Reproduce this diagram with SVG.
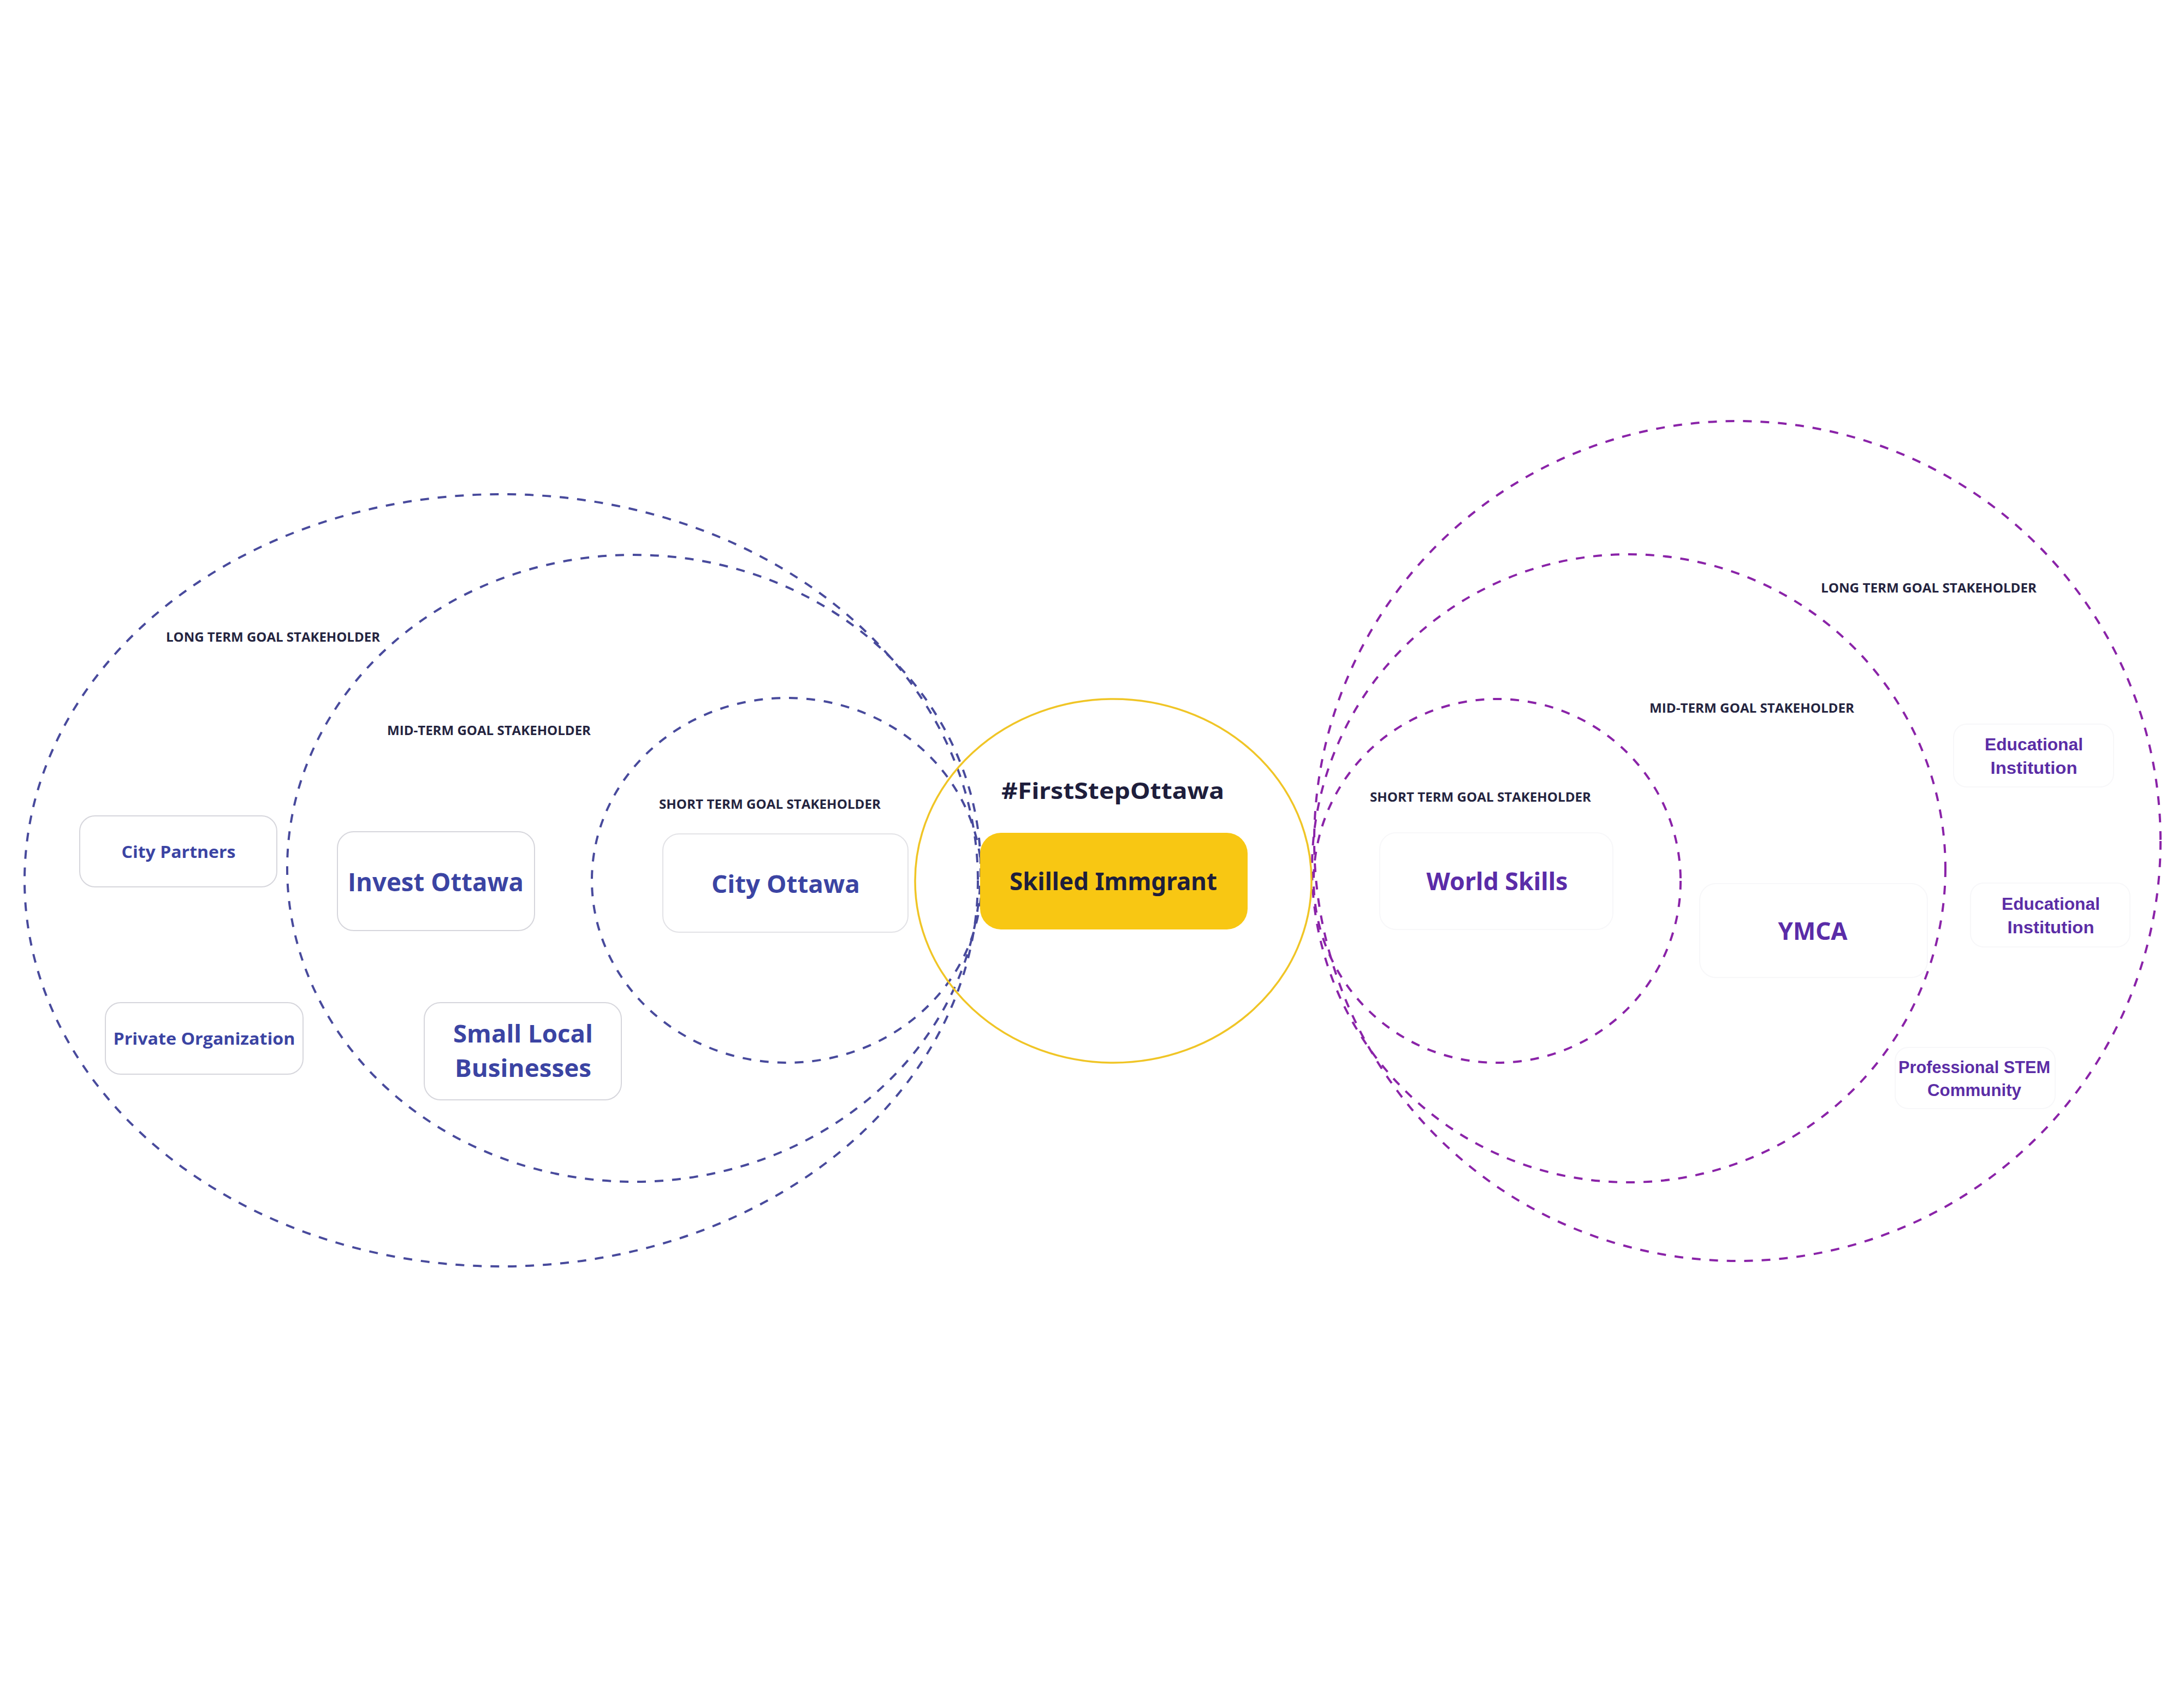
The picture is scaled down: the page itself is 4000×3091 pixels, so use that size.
<svg xmlns="http://www.w3.org/2000/svg" width="4000" height="3091" viewBox="0 0 4000 3091">
<style>
.ringL{fill:none;stroke:#484A9C;stroke-width:4;stroke-dasharray:16 16}
.ringR{fill:none;stroke:#8A23A8;stroke-width:4;stroke-dasharray:16 16}
.core{fill:none;stroke:#F0C526;stroke-width:3.5}
.box{fill:#ffffff;stroke:#d6d6dc;stroke-width:2}
.faint{fill:#ffffff;stroke:#f7f7f9;stroke-width:2}
.lbl{font-family:"Open Sans","Noto Sans",sans-serif;font-weight:700;font-size:24px;fill:#24243F}
.tL{font-family:"Open Sans","Noto Sans",sans-serif;font-weight:700;fill:#3B44A3;text-anchor:middle}
.tR{font-family:"Noto Sans","Open Sans",sans-serif;font-weight:700;fill:#5A2CA8;text-anchor:middle}
.tE{font-family:"Liberation Sans",Arial,sans-serif;font-weight:700;fill:#5B2DA6;text-anchor:middle;font-size:31px}
.tC{font-family:"Noto Sans","Open Sans",sans-serif;font-weight:700;fill:#1E1E3C;text-anchor:middle}
</style>
<rect x="0" y="0" width="4000" height="3091" fill="#ffffff"/>

<g id="ring-left-long"><ellipse class="ringL" cx="918" cy="1612" rx="873" ry="707"/></g>
<g id="ring-left-mid"><ellipse class="ringL" cx="1161" cy="1590" rx="635" ry="574"/></g>
<g id="ring-left-short"><ellipse class="ringL" cx="1441" cy="1612" rx="357" ry="334"/></g>
<g id="ring-right-long"><ellipse class="ringR" cx="3182" cy="1540" rx="775" ry="769"/></g>
<g id="ring-right-mid"><ellipse class="ringR" cx="2983" cy="1590" rx="580" ry="575"/></g>
<g id="ring-right-short"><ellipse class="ringR" cx="2742" cy="1613" rx="336" ry="333"/></g>
<g id="ring-core"><ellipse class="core" cx="2039" cy="1613" rx="363" ry="333"/></g>

<g id="connectors"></g>

<g id="label-left-long"><text class="lbl" x="304" y="1175" textLength="392" lengthAdjust="spacingAndGlyphs">LONG TERM GOAL STAKEHOLDER</text></g>
<g id="label-left-mid"><text class="lbl" x="709" y="1346" textLength="373" lengthAdjust="spacingAndGlyphs">MID-TERM GOAL STAKEHOLDER</text></g>
<g id="label-left-short"><text class="lbl" x="1207" y="1481" textLength="406" lengthAdjust="spacingAndGlyphs">SHORT TERM GOAL STAKEHOLDER</text></g>
<g id="label-right-long"><text class="lbl" x="3335" y="1085" textLength="395" lengthAdjust="spacingAndGlyphs">LONG TERM GOAL STAKEHOLDER</text></g>
<g id="label-right-mid"><text class="lbl" x="3021" y="1305" textLength="375" lengthAdjust="spacingAndGlyphs">MID-TERM GOAL STAKEHOLDER</text></g>
<g id="label-right-short"><text class="lbl" x="2509" y="1468" textLength="405" lengthAdjust="spacingAndGlyphs">SHORT TERM GOAL STAKEHOLDER</text></g>

<g id="node-city-partners">
<rect class="box" x="146" y="1494" width="361" height="130" rx="28"/>
<text class="tL" x="327" y="1571" font-size="31" textLength="209" lengthAdjust="spacingAndGlyphs">City Partners</text>
</g>
<g id="node-invest-ottawa">
<rect class="box" x="618" y="1523" width="361" height="181" rx="30"/>
<text class="tL" x="798" y="1632" font-size="46" textLength="322" lengthAdjust="spacingAndGlyphs">Invest Ottawa</text>
</g>
<g id="node-private-organization">
<rect class="box" x="193" y="1836" width="362" height="131" rx="28"/>
<text class="tL" x="374" y="1913" font-size="30" textLength="333" lengthAdjust="spacingAndGlyphs">Private Organization</text>
</g>
<g id="node-small-local-businesses">
<rect class="box" x="777" y="1836" width="361" height="178" rx="30"/>
<text class="tL" x="958" y="1909" font-size="44" textLength="256" lengthAdjust="spacingAndGlyphs">Small Local</text>
<text class="tL" x="958" y="1972" font-size="44" textLength="250" lengthAdjust="spacingAndGlyphs">Businesses</text>
</g>
<g id="node-city-ottawa">
<rect class="box" x="1214" y="1527" width="449" height="180" rx="30" style="stroke:#e2e2e6"/>
<text class="tL" x="1439" y="1635" font-size="44" textLength="272" lengthAdjust="spacingAndGlyphs">City Ottawa</text>
</g>

<g id="node-first-step-ottawa">
<text class="tC" x="2038" y="1463" font-size="42" textLength="408" lengthAdjust="spacingAndGlyphs">#FirstStepOttawa</text>
</g>
<g id="node-skilled-immigrant">
<rect x="1795" y="1525" width="490" height="177" rx="38" fill="#F8C713"/>
<text class="tC" x="2039" y="1630" font-size="44" textLength="380" lengthAdjust="spacingAndGlyphs">Skilled Immgrant</text>
</g>

<g id="node-world-skills">
<rect class="faint" x="2527" y="1525" width="427" height="177" rx="30"/>
<text class="tR" x="2742" y="1630" font-size="44" textLength="259" lengthAdjust="spacingAndGlyphs">World Skills</text>
</g>
<g id="node-ymca">
<rect class="faint" x="3113" y="1618" width="417" height="172" rx="30"/>
<text class="tR" x="3320" y="1721" font-size="44" textLength="127" lengthAdjust="spacingAndGlyphs">YMCA</text>
</g>
<g id="node-educational-1">
<rect class="faint" x="3578" y="1326" width="293" height="115" rx="24"/>
<text class="tE" x="3725" y="1374" textLength="180" lengthAdjust="spacingAndGlyphs">Educational</text>
<text class="tE" x="3725" y="1417" textLength="159" lengthAdjust="spacingAndGlyphs">Institution</text>
</g>
<g id="node-educational-2">
<rect class="faint" x="3609" y="1617" width="292" height="117" rx="24"/>
<text class="tE" x="3756" y="1666" textLength="180" lengthAdjust="spacingAndGlyphs">Educational</text>
<text class="tE" x="3756" y="1709" textLength="159" lengthAdjust="spacingAndGlyphs">Institution</text>
</g>
<g id="node-professional-stem">
<rect class="faint" x="3471" y="1918" width="293" height="112" rx="24"/>
<text class="tE" x="3616" y="1965" textLength="278" lengthAdjust="spacingAndGlyphs">Professional STEM</text>
<text class="tE" x="3616" y="2007" textLength="172" lengthAdjust="spacingAndGlyphs">Community</text>
</g>
</svg>
